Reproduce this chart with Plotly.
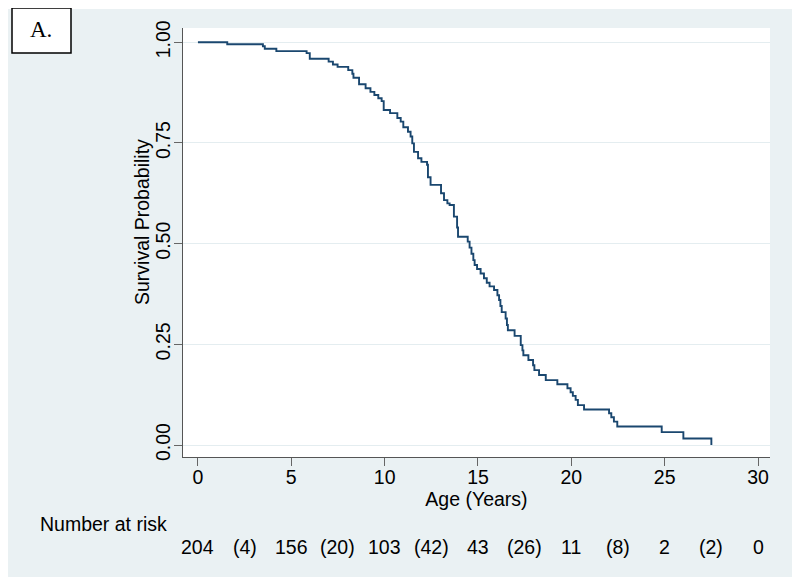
import plotly.graph_objects as go

# ---- data ----
age_years = [0.0, 1.57, 3.48, 3.58, 4.2, 5.82, 5.99, 7.0, 7.23, 7.48, 8.05, 8.27, 8.33,
             8.63, 8.98, 9.24, 9.45, 9.66, 9.84, 9.95, 10.29, 10.68, 10.86, 11.0, 11.25,
             11.39, 11.48, 11.57, 11.79, 11.97, 12.27, 12.32, 12.46, 13.02, 13.18, 13.36,
             13.48, 13.71, 13.88, 13.93, 14.45, 14.55, 14.65, 14.75, 14.82, 14.95, 15.14,
             15.32, 15.47, 15.62, 15.86, 16.04, 16.13, 16.2, 16.27, 16.48, 16.55, 16.6,
             16.96, 17.29, 17.38, 17.43, 17.7, 17.95, 18.02, 18.27, 18.63, 19.25, 19.79,
             19.96, 20.08, 20.23, 20.35, 20.68, 22.02, 22.14, 22.28, 22.46, 24.84, 26.0, 27.5]
survival = [1.000, 0.995, 0.990, 0.984, 0.978, 0.973, 0.959, 0.952, 0.945, 0.939, 0.931,
            0.922, 0.912, 0.896, 0.886, 0.877, 0.869, 0.861, 0.854, 0.832, 0.824, 0.812,
            0.803, 0.789, 0.778, 0.766, 0.749, 0.728, 0.712, 0.703, 0.696, 0.665, 0.646,
            0.625, 0.608, 0.600, 0.596, 0.567, 0.540, 0.517, 0.505, 0.490, 0.475, 0.459,
            0.447, 0.437, 0.426, 0.414, 0.403, 0.394, 0.385, 0.372, 0.360, 0.345, 0.330,
            0.314, 0.298, 0.285, 0.271, 0.248, 0.235, 0.223, 0.211, 0.198, 0.186, 0.174,
            0.161, 0.151, 0.141, 0.131, 0.122, 0.112, 0.099, 0.088, 0.079, 0.069, 0.058,
            0.046, 0.032, 0.016, 0.000]

x_ticks = [0, 5, 10, 15, 20, 25, 30]
y_ticks = [0.0, 0.25, 0.5, 0.75, 1.0]
y_tick_labels = ["0.00", "0.25", "0.50", "0.75", "1.00"]

risk_times = [0, 5, 10, 15, 20, 25, 30]
number_at_risk = [204, 156, 103, 43, 11, 2, 0]
event_times = [2.5, 7.5, 12.5, 17.5, 22.5, 27.5]
events = [4, 20, 42, 26, 8, 2]

# ---- layout geometry (screen pixels; page body has an 8px margin) ----
OFF = 8
W, H = 800 - 2 * OFF, 588 - 2 * OFF
L, R, T, B = 183, 770, 28, 457          # plot area on screen
PW, PH = R - L, B - T


def px(x):
    return (x - L) / PW


def py(y):
    return (B - y) / PH


FONT = "Liberation Sans, Arial, sans-serif"
FS = 19.5
BG = "#EAF1F3"
LINE = "#1A476F"

fig = go.Figure()
fig.add_trace(go.Scatter(x=age_years, y=survival, mode="lines",
                         line=dict(color=LINE, width=1.9, shape="hv"),
                         showlegend=False, hoverinfo="skip"))

shapes = [
    dict(type="rect", xref="paper", yref="paper", x0=px(8), x1=px(792), y0=py(577), y1=py(9),
         fillcolor=BG, line=dict(width=0), layer="below"),
    dict(type="rect", xref="paper", yref="paper", x0=0, x1=1, y0=0, y1=1,
         fillcolor="white", line=dict(width=0), layer="below"),
    dict(type="rect", xref="paper", yref="paper", x0=px(12), x1=px(71), y0=py(53), y1=py(8),
         fillcolor="white", line=dict(color="black", width=1.5), layer="above"),
]

annotations = [
    dict(text="A.", xref="paper", yref="paper", x=px(41), y=py(30), showarrow=False,
         font=dict(family="Liberation Serif, Times New Roman, serif", size=23, color="black"),
         xanchor="center", yanchor="middle"),
    dict(text="Survival Probability", xref="paper", yref="paper", x=px(142), y=py(222),
         textangle=-90, showarrow=False, xanchor="center", yanchor="middle",
         font=dict(family=FONT, size=FS, color="black")),
    dict(text="Number at risk", xref="paper", yref="paper", x=px(169), y=py(524),
         showarrow=False, xanchor="right", yanchor="middle",
         font=dict(family=FONT, size=FS, color="black")),
]
for t, n in zip(risk_times, number_at_risk):
    annotations.append(dict(text=str(n), x=t, xref="x", y=py(547), yref="paper",
                            showarrow=False, xanchor="center", yanchor="middle",
                            font=dict(family=FONT, size=FS, color="black")))
for t, n in zip(event_times, events):
    annotations.append(dict(text=f"({n})", x=t, xref="x", y=py(547), yref="paper",
                            showarrow=False, xanchor="center", yanchor="middle",
                            font=dict(family=FONT, size=FS, color="black")))

fig.update_layout(
    width=W, height=H, autosize=False,
    margin=dict(l=L - OFF, r=W - (R - OFF), t=T - OFF, b=H - (B - OFF), pad=0),
    paper_bgcolor="white", plot_bgcolor="rgba(0,0,0,0)",
    font=dict(family=FONT, size=FS, color="black"),
    shapes=shapes, annotations=annotations,
    xaxis=dict(range=[-0.8, 30.64], tickvals=x_ticks, ticks="outside", ticklen=8,
               tickcolor="#666", tickwidth=1, showgrid=False, zeroline=False,
               showline=True, linecolor="#555", linewidth=1,
               ticklabelstandoff=-5,
               tickfont=dict(family=FONT, size=FS, color="black"),
               title=dict(text="Age (Years)", standoff=0,
                          font=dict(family=FONT, size=FS, color="black"))),
    yaxis=dict(range=[-0.0298, 1.0355], tickvals=y_ticks, ticktext=y_tick_labels,
               tickangle=-90, ticks="outside", ticklen=8, tickcolor="#666", tickwidth=1,
               showgrid=True, gridcolor="#E4EDF0", gridwidth=1, zeroline=False,
               showline=True, linecolor="#555", linewidth=1, ticklabelstandoff=-4,
               tickfont=dict(family=FONT, size=FS, color="black")),
)

fig.write_html("out.html")
